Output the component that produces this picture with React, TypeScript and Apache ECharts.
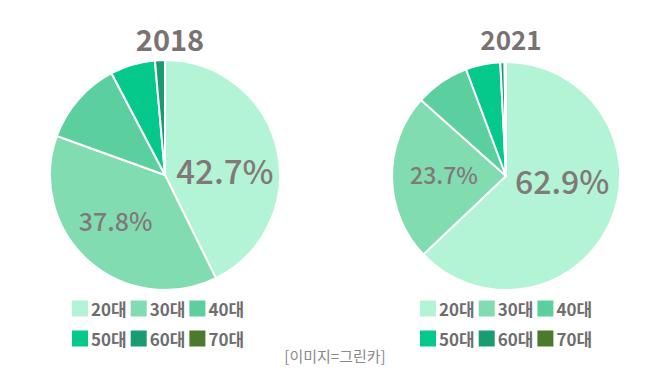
import React, { useEffect, useRef } from "react";
import * as echarts from "echarts";

const categories = ["20대", "30대", "40대", "50대", "60대", "70대"];
const colors = ["#b3f4d6", "#82dcb1", "#5ccf9e", "#05c98b", "#1b9c6f", "#4b7a2c"];
const values2018 = [42.7, 37.8, 11.8, 6.3, 1.4, 0];
const values2021 = [62.9, 23.7, 7.7, 4.9, 0.6, 0.2];
const titles = ["2018", "2021"];
const caption = "[이미지=그린카]";

const FONT = "'Noto Sans CJK KR', 'Noto Sans', sans-serif";
const GREY = "#817979";

export default function App() {
  const ref = useRef<HTMLDivElement>(null);
  useEffect(() => {
    if (!ref.current) return;
    const chart = echarts.init(ref.current, undefined, { renderer: "svg" });

    const bigLabel = (size: number, offset: number[]) => ({
      show: true,
      position: "inside",
      formatter: (p: any) => p.value.toFixed(1) + "%",
      fontSize: size,
      fontFamily: FONT,
      fontWeight: 500,
      color: GREY,
      offset,
    });
    const mkData = (vals: number[], labels: any[]) =>
      categories.map((c, i) => ({
        name: c,
        value: vals[i],
        itemStyle: { color: colors[i] },
        label: labels[i] ? labels[i] : { show: false },
      }));

    const legendBase = {
      orient: "horizontal",
      itemWidth: 16,
      itemHeight: 16,
      itemGap: 4,
      icon: "rect",
      itemStyle: { borderWidth: 0 },
      textStyle: { fontSize: 17, fontWeight: "bold", color: "#6e6e6e", fontFamily: FONT, padding: [0, 0, 0, -2] },
      padding: 0,
      selectedMode: false,
    };

    chart.setOption({
      animation: false,
      backgroundColor: "#ffffff",
      title: [
        {
          text: titles[0],
          left: 165,
          top: 18,
          textAlign: "center",
          textStyle: { fontSize: 29, fontWeight: "bold", color: "#7a7272", fontFamily: FONT },
        },
        {
          text: titles[1],
          left: 506,
          top: 20,
          textAlign: "center",
          textStyle: { fontSize: 26, fontWeight: "bold", color: "#7a7272", fontFamily: FONT },
        },
      ],
      legend: [
        { ...legendBase, data: categories.slice(0, 3), left: 72, top: 300 },
        { ...legendBase, data: categories.slice(3, 6), left: 72, top: 330 },
        { ...legendBase, data: categories.slice(0, 3), left: 420, top: 300 },
        { ...legendBase, data: categories.slice(3, 6), left: 420, top: 330 },
      ],
      graphic: [
        {
          type: "text",
          left: "center",
          top: 348,
          style: { text: caption, fontSize: 15, fill: "#8a8a8a", fontFamily: FONT },
        },
      ],
      series: [
        {
          type: "pie",
          center: [165, 175],
          radius: 115,
          startAngle: 90,
          clockwise: true,
          itemStyle: { borderColor: "#ffffff", borderWidth: 2 },
          labelLine: { show: false },
          emphasis: { disabled: true },
          data: mkData(values2018, [bigLabel(33, [1, 9]), bigLabel(25, [-9, 0])]),
        },
        {
          type: "pie",
          center: [506, 176],
          radius: 114,
          startAngle: 90,
          clockwise: true,
          itemStyle: { borderColor: "#ffffff", borderWidth: 2 },
          labelLine: { show: false },
          emphasis: { disabled: true },
          data: mkData(values2021, [bigLabel(32, [1, -20]), bigLabel(23, [-2, -3])]),
        },
      ],
    });
    return () => chart.dispose();
  }, []);
  return (
    <div
      ref={ref}
      style={{ position: "absolute", left: 0, top: 0, width: 670, height: 374 }}
    />
  );
}
